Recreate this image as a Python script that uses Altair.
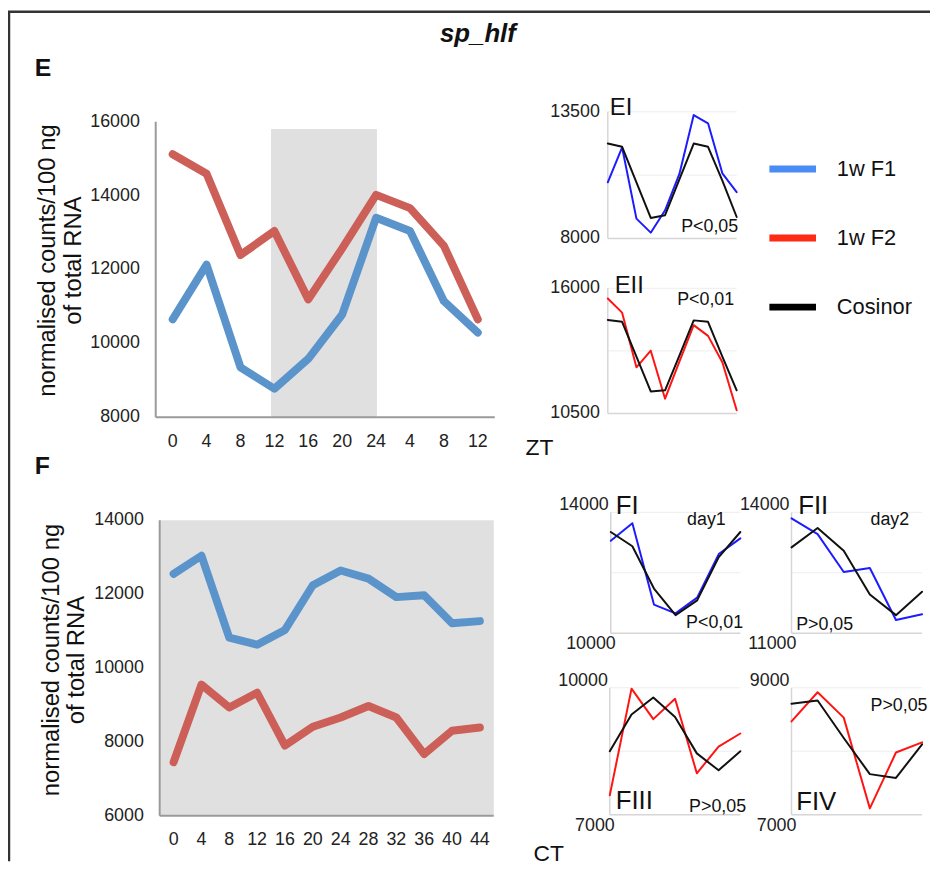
import altair as alt
import pandas as pd

W, H = 930, 857
FONT = "Liberation Sans"

# ---------------- data ----------------
ZT_HOURS = [0, 4, 8, 12, 16, 20, 24, 28, 32, 36]
ZT_LABELS = ["0", "4", "8", "12", "16", "20", "24", "4", "8", "12"]
E_F1 = [10650, 12130, 9350, 8770, 9580, 10780, 13400, 13040, 11140, 10290]
E_F2 = [15120, 14590, 12390, 13040, 11190, 12570, 14020, 13660, 12640, 10650]
E_TICKS = [8000, 10000, 12000, 14000, 16000]
DARK = [11.6, 24.1]

CT_HOURS = [0, 4, 8, 12, 16, 20, 24, 28, 32, 36, 40, 44]
CT_LABELS = ["0", "4", "8", "12", "16", "20", "24", "28", "32", "36", "40", "44"]
F_F1 = [12550, 13040, 10820, 10630, 11030, 12240, 12640, 12420, 11920, 11970, 11210, 11270]
F_F2 = [7450, 9550, 8930, 9330, 7900, 8410, 8660, 8970, 8660, 7670, 8300, 8390]
F_TICKS = [6000, 8000, 10000, 12000, 14000]

EI_F1 = [10440, 11950, 8860, 8250, 9220, 10800, 13360, 13000, 10830, 10010]
EI_COS = [12120, 11980, 10440, 8890, 9010, 10570, 12120, 11980, 10510, 8930]
EII_F2 = [15550, 14930, 12530, 13260, 11150, 12780, 14380, 13910, 12750, 10640]
EII_COS = [14610, 14530, 13000, 11470, 11520, 13040, 14590, 14530, 13000, 11520]

DAY1 = [0, 4, 8, 12, 16, 20, 24]
DAY2 = [24, 28, 32, 36, 40, 44]
FI_F1 = [13060, 13640, 10950, 10660, 11180, 12620, 13140]
FI_COS = [13350, 12880, 11480, 10600, 11090, 12520, 13350]
FII_F1 = [13850, 13460, 12520, 12620, 11330, 11470]
FII_COS = [13130, 13610, 13050, 11960, 11450, 12030]
FIII_F2 = [7460, 9980, 9260, 9740, 7980, 8610, 8920]
FIII_COS = [8500, 9370, 9770, 9310, 8450, 8050, 8500]
FIV_F2 = [8470, 8930, 8530, 7100, 7980, 8140]
FIV_COS = [8750, 8800, 8210, 7640, 7580, 8110]

LEGEND = ["1w F1", "1w F2", "Cosinor"]
LEGEND_COLORS = ["#4a8cf5", "#ff2a14", "#000000"]

MAIN_BLUE = "#5b94cb"
MAIN_RED = "#cc5f58"
SMALL_BLUE = "#1c1cff"
SMALL_RED = "#ff1414"
SMALL_BLACK = "#111111"
TXT = "#111111"

ONE = pd.DataFrame({"k": [0]})


def sc(dom, rng):
    return alt.Scale(domain=dom, range=rng, nice=False, zero=False)


def line(hours, vals, sx, sy, color, width):
    df = pd.DataFrame({"h": hours, "v": vals})
    return alt.Chart(df).mark_line(
        color=color, strokeWidth=width, strokeJoin="round", strokeCap="round"
    ).encode(
        x=alt.X("h:Q", scale=sx, axis=None),
        y=alt.Y("v:Q", scale=sy, axis=None),
    )


def axis_lines(sx, sy, xdom, ydom, color, width):
    bottom = alt.Chart(ONE).mark_rule(color=color, strokeWidth=width).encode(
        x=alt.XDatum(xdom[0], type="quantitative", scale=sx, axis=None),
        x2=alt.X2Datum(xdom[1]),
        y=alt.YDatum(ydom[0], type="quantitative", scale=sy, axis=None),
    )
    left = alt.Chart(ONE).mark_rule(color=color, strokeWidth=width).encode(
        x=alt.XDatum(xdom[0], type="quantitative", scale=sx, axis=None),
        y=alt.YDatum(ydom[0], type="quantitative", scale=sy, axis=None),
        y2=alt.Y2Datum(ydom[1]),
    )
    return [bottom, left]


def ylabels(vals, sx, sy, xdom, dx, dy=0, size=18):
    return alt.Chart(pd.DataFrame({"t": vals})).mark_text(
        align="right", baseline="middle", dx=dx, dy=dy, fontSize=size, font=FONT, color="#222222"
    ).encode(
        x=alt.XDatum(xdom[0], type="quantitative", scale=sx, axis=None),
        y=alt.Y("t:Q", scale=sy, axis=None),
        text=alt.Text("t:Q", format="d"),
    )


def text(s, x, y, size, weight="normal", style="normal", align="left", angle=0, color=TXT):
    return alt.Chart(pd.DataFrame({"t": [s]})).mark_text(
        align=align, baseline="middle", fontSize=size, fontWeight=weight,
        fontStyle=style, font=FONT, color=color, angle=angle
    ).encode(text="t:N", x=alt.value(x), y=alt.value(y))


# ---------------- main panels ----------------
def main_panel(hours, labels, f1, f2, xdom, xr, ydom, yr, yvals, shade, title_xs, title_y):
    sx, sy = sc(xdom, xr), sc(ydom, yr)
    rect = alt.Chart(pd.DataFrame({"a": [shade[0]], "b": [shade[1]], "lo": [shade[2]], "hi": [shade[3]]})).mark_rect(
        color="#e0e0e0"
    ).encode(
        x=alt.X("a:Q", scale=sx, axis=None), x2="b:Q",
        y=alt.Y("lo:Q", scale=sy, axis=None), y2="hi:Q",
    )
    xlab = alt.Chart(pd.DataFrame({"h": hours, "lab": labels})).mark_text(
        align="center", baseline="middle", dy=25, fontSize=18, font=FONT, color="#222222"
    ).encode(
        x=alt.X("h:Q", scale=sx, axis=None),
        y=alt.YDatum(ydom[0], type="quantitative", scale=sy, axis=None),
        text="lab:N",
    )
    layers = [rect] + axis_lines(sx, sy, xdom, ydom, "#9a9a9a", 2) + [
        ylabels(yvals, sx, sy, xdom, -16),
        xlab,
        line(hours, f1, sx, sy, MAIN_BLUE, 8),
        line(hours, f2, sx, sy, MAIN_RED, 8),
        text("normalised counts/100 ng", title_xs[0], title_y, 24, angle=270, align="center"),
        text("of total RNA", title_xs[1], title_y, 24, angle=270, align="center"),
    ]
    return alt.layer(*layers)


panelE = main_panel(ZT_HOURS, ZT_LABELS, E_F1, E_F2, [-2, 38], [149, 491], [8000, 16000], [409, 111],
                    E_TICKS, [DARK[0], DARK[1], 8000, 15800], [40, 67], 251)
panelF = main_panel(CT_HOURS, CT_LABELS, F_F1, F_F2, [-2, 46], [153, 490], [6000, 14000], [811, 513],
                    F_TICKS, [-2, 46, 6000, 14000], [44, 70], 654)


# ---------------- small panels ----------------
def small_panel(hours, colored, cos, color, xr, ydom, yr, grid_vals, fpanel):
    xdom = [min(hours), max(hours)]
    sx, sy = sc(xdom, xr), sc(ydom, yr)
    grid = alt.Chart(pd.DataFrame({"g": grid_vals})).mark_rule(color="#ededed", strokeWidth=1).encode(
        y=alt.Y("g:Q", scale=sy, axis=None),
        x=alt.XDatum(xdom[0], type="quantitative", scale=sx, axis=None),
        x2=alt.X2Datum(xdom[1]),
    )
    if fpanel:
        labs = [ylabels([ydom[1]], sx, sy, xdom, -2, dy=-7),
                ylabels([ydom[0]], sx, sy, xdom, 5, dy=11)]
    else:
        labs = [ylabels(ydom, sx, sy, xdom, -8)]
    return alt.layer(
        grid,
        *axis_lines(sx, sy, xdom, ydom, "#d6d6d6", 1.5),
        *labs,
        line(hours, colored, sx, sy, color, 2),
        line(hours, cos, sx, sy, SMALL_BLACK, 2),
    )


pEI = small_panel(ZT_HOURS, EI_F1, EI_COS, SMALL_BLUE, [605, 735], [8000, 13500], [228.7, 101], [10750, 13500], False)
pEII = small_panel(ZT_HOURS, EII_F2, EII_COS, SMALL_RED, [605, 735], [10500, 16000], [405.3, 279], [13250, 16000], False)
pFI = small_panel(DAY1, FI_F1, FI_COS, SMALL_BLUE, [608, 738.7], [10000, 14000], [627, 505], [12000, 14000], True)
pFII = small_panel(DAY2, FII_F1, FII_COS, SMALL_BLUE, [790.3, 922], [11000, 14000], [627, 505], [12500, 14000], True)
pFIII = small_panel(DAY1, FIII_F2, FIII_COS, SMALL_RED, [607, 738.7], [7000, 10000], [810, 682], [8500, 10000], True)
pFIV = small_panel(DAY2, FIV_F2, FIV_COS, SMALL_RED, [790.3, 922], [7000, 9000], [810, 682], [8000, 9000], True)

# ---------------- legend ----------------
leg_df = pd.DataFrame({"s": LEGEND})
leg_y = alt.Y("s:N", scale=alt.Scale(type="point", domain=LEGEND, range=[158.7, 298], padding=0), axis=None)
leg_c = alt.Color("s:N", scale=alt.Scale(domain=LEGEND, range=LEGEND_COLORS), legend=None)
legend = alt.layer(
    alt.Chart(leg_df).mark_rule(strokeWidth=7).encode(y=leg_y, x=alt.value(768), x2=alt.value(815), color=leg_c),
    alt.Chart(leg_df).mark_text(align="left", baseline="middle", fontSize=22, font=FONT, color=TXT).encode(
        y=leg_y, x=alt.value(836), text="s:N"),
)

# ---------------- frame & annotations ----------------
frame = alt.layer(
    alt.Chart(ONE).mark_rule(color="#333333", strokeWidth=2.5).encode(x=alt.value(0), x2=alt.value(W), y=alt.value(0)),
    alt.Chart(ONE).mark_rule(color="#333333", strokeWidth=2.5).encode(y=alt.value(0), y2=alt.value(H), x=alt.value(1)),
)

texts = [
    text("sp_hlf", 474, 23, 26, weight="bold", style="italic", align="center"),
    text("E", 27, 57, 25, weight="bold"),
    text("F", 27, 458, 25, weight="bold"),
    text("ZT", 522, 440, 23),
    text("CT", 530, 850, 23),
    text("EI", 607, 97, 24),
    text("P<0,05", 679, 217, 18),
    text("EII", 612, 277, 24),
    text("P<0,01", 675, 291, 18),
    text("FI", 613, 499, 26),
    text("day1", 685, 513, 18),
    text("P<0,01", 684, 617, 18),
    text("FII", 797, 499, 26),
    text("day2", 870, 513, 18),
    text("P>0,05", 795, 619, 18),
    text("FIII", 613, 796, 26),
    text("P>0,05", 687, 802, 18),
    text("FIV", 795, 797, 26),
    text("P>0,05", 870, 700, 18),
]

chart = alt.layer(
    frame, panelE, panelF, pEI, pEII, pFI, pFII, pFIII, pFIV, legend, *texts
).resolve_scale(
    x="independent", y="independent"
).properties(
    width=W, height=H, autosize=alt.AutoSizeParams(type="none"), padding=0
).configure_view(stroke=None)

chart.save("out.html", embed_options={"renderer": "svg", "actions": False})
